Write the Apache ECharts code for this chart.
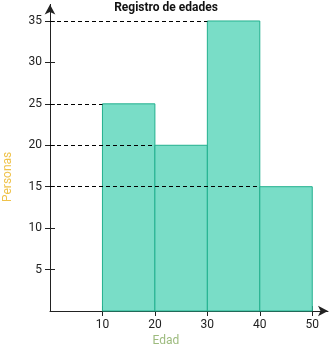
<!DOCTYPE html>
<html><head><meta charset="utf-8">
<script src="https://cdn.jsdelivr.net/npm/echarts@6/dist/echarts.min.js"></script>
<style>html,body{margin:0;padding:0;background:#fff}#c{width:332px;height:350px}</style>
</head><body><div id="c"></div>
<script>
const titleText = 'Registro de edades';
const xName = 'Edad';
const yName = 'Personas';
const binStarts = [10, 20, 30, 40];
const binEnds = [20, 30, 40, 50];
const counts = [25, 20, 35, 15];
const yTicks = [5, 10, 15, 20, 25, 30, 35];
const xTicks = [10, 20, 30, 40, 50];

const chart = echarts.init(document.getElementById('c'));
const font = 'Roboto';
const axisCol = '#222';
const data = counts.map((c, i) => [binStarts[i], binEnds[i], c]);

const xBase = {
  type: 'value', min: 0, max: 53, interval: 10,
  splitLine: { show: false }
};
const yBase = {
  type: 'value', min: 0, max: 37, interval: 5,
  splitLine: { show: false }
};

chart.setOption({
  animation: false,
  title: {
    text: titleText, left: 'center', top: -3,
    textStyle: { fontFamily: font, fontSize: 12, fontWeight: 'bold', color: '#111' }
  },
  grid: { left: 50, right: 4, top: 4.4, bottom: 39, containLabel: false },
  xAxis: [
    Object.assign({}, xBase, {
      axisLine: { show: true, symbol: ['none', 'arrow'], symbolSize: [8, 10], lineStyle: { color: axisCol, width: 1 } },
      axisTick: { show: true, length: 5, customValues: xTicks, lineStyle: { color: axisCol } },
      axisLabel: { show: true, customValues: xTicks, margin: 8, fontFamily: font, fontSize: 12, color: '#222' }
    }),
    Object.assign({}, xBase, {
      position: 'bottom',
      axisLine: { show: false },
      axisTick: { show: true, inside: true, length: 5, customValues: xTicks, lineStyle: { color: axisCol } },
      axisLabel: { show: false }
    })
  ],
  yAxis: [
    Object.assign({}, yBase, {
      axisLine: { show: true, symbol: ['none', 'arrow'], symbolSize: [8, 10], lineStyle: { color: axisCol, width: 1 } },
      axisTick: { show: true, length: 5, customValues: yTicks, lineStyle: { color: axisCol } },
      axisLabel: { show: true, customValues: yTicks, margin: 8, fontFamily: font, fontSize: 12, color: '#222' }
    }),
    Object.assign({}, yBase, {
      position: 'left',
      axisLine: { show: false },
      axisTick: { show: true, inside: true, length: 5, customValues: yTicks, lineStyle: { color: axisCol } },
      axisLabel: { show: false }
    })
  ],
  graphic: [
    { type: 'text', rotation: Math.PI / 2, style: { text: yName, fontFamily: font, fontSize: 12, fill: '#EFC24A' },
      x: 2, y: 202 },
    { type: 'text', style: { text: xName, fontFamily: font, fontSize: 12, fill: '#9DBB7E', textAlign: 'center', textVerticalAlign: 'middle' },
      x: 166, y: 341 }
  ],
  series: [{
    type: 'custom',
    xAxisIndex: 0, yAxisIndex: 0,
    data: data,
    encode: { x: [0, 1], y: 2 },
    renderItem: function (params, api) {
      const p0 = api.coord([api.value(0), api.value(2)]);
      const p1 = api.coord([api.value(1), 0]);
      return {
        type: 'rect',
        shape: { x: p0[0], y: p0[1], width: p1[0] - p0[0], height: p1[1] - p0[1] },
        style: { fill: '#79DDC7', stroke: '#22B08E', lineWidth: 1 }
      };
    },
    markLine: {
      silent: true, symbol: ['none', 'none'], label: { show: false },
      lineStyle: { color: '#000', type: [4, 3], width: 1 },
      data: counts.map((c, i) => [{ coord: [0, c] }, { coord: [binStarts[i], c] }])
    }
  }]
});
</script></body></html>
